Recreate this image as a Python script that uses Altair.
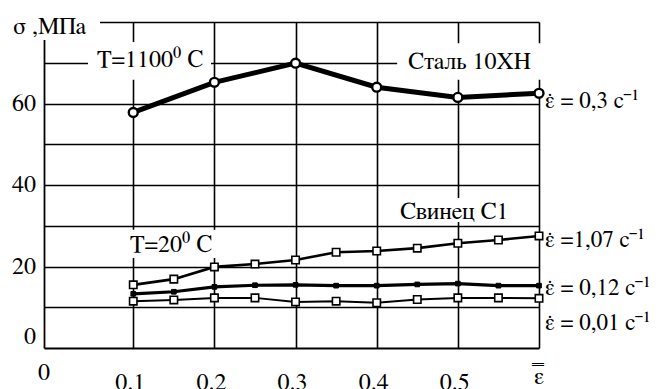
import altair as alt
import pandas as pd

# ---- data ----
x_steel = [0.1, 0.2, 0.3, 0.4, 0.5, 0.6]
y_steel = [57.8, 65.2, 69.9, 64.0, 61.5, 62.5]
x_lead = [0.1, 0.15, 0.2, 0.25, 0.3, 0.35, 0.4, 0.45, 0.5, 0.55, 0.6]
y_107 = [15.5, 16.9, 19.9, 20.6, 21.6, 23.5, 23.8, 24.5, 25.7, 26.5, 27.5]
y_012 = [13.3, 13.8, 15.0, 15.4, 15.5, 15.3, 15.3, 15.6, 15.8, 15.3, 15.3]
y_001 = [11.5, 11.8, 12.3, 12.3, 11.3, 11.5, 11.1, 11.9, 12.3, 12.3, 12.2]

y_tick_labels = ["20", "40", "60"]
y_tick_values = [20, 40, 60]
x_tick_labels = ["0.1", "0.2", "0.3", "0.4", "0.5"]
x_tick_values = [0.1, 0.2, 0.3, 0.4, 0.5]

series_labels = ["ε̇ = 0,3 с⁻¹", "ε̇ =1,07 с⁻¹", "ε̇ = 0,12 с⁻¹", "ε̇ = 0,01 с⁻¹"]
series_label_y = [60.7, 26.5, 14.8, 6.1]

FONT = "FreeSerif"
FS = 24
XDOM = [-0.01, 0.6]
YDOM = [0, 80]

xs = alt.Scale(domain=XDOM, nice=False, zero=False)
ys = alt.Scale(domain=YDOM, nice=False, zero=False)

# ---- frame / grid ----
grid_df = pd.DataFrame({"x": [0.3], "y": [40]})
frame = alt.Chart(grid_df).mark_point(opacity=0).encode(
    x=alt.X("x:Q", scale=xs, axis=alt.Axis(values=[0.1, 0.2, 0.3, 0.4, 0.5, 0.6], grid=True,
                                           gridColor="black", gridWidth=1.6, gridOpacity=1,
                                           labels=False, ticks=False, domain=True,
                                           domainColor="black", domainWidth=1.8, title=None)),
    y=alt.Y("y:Q", scale=ys, axis=alt.Axis(values=[10, 20, 30, 40, 50, 60, 70, 80], grid=True,
                                           gridColor="black", gridWidth=1.6, gridOpacity=1,
                                           labels=False, ticks=False, domain=True,
                                           domainColor="black", domainWidth=1.8, title=None)),
)

# ---- white label backgrounds ----
bg_df = pd.DataFrame({
    "x1": [-0.052, 0.0442, 0.4252, 0.4225, 0.0923],
    "x2": [0.059, 0.1958, 0.6100, 0.5890, 0.2044],
    "y1": [82.0, 75.1, 74.8, 36.8, 29.0],
    "y2": [75.6, 65.8, 65.8, 30.9, 22.1],
})
bgs = alt.Chart(bg_df).mark_rect(fill="white").encode(
    x=alt.X("x1:Q", scale=xs), x2="x2:Q",
    y=alt.Y("y1:Q", scale=ys), y2="y2:Q",
)

# ---- annotation texts ----
ann_df = pd.DataFrame({
    "x": [-0.0482, 0.0553, 0.4386, 0.4287, 0.096],
    "y": [78.8, 70.7, 70.2, 33.4, 25.3],
    "t": ["σ ,МПа", "T=1100⁰ C", "Сталь 10ХН", "Свинец С1", "T=20⁰ C"],
})
ann = alt.Chart(ann_df).mark_text(align="left", baseline="middle", font=FONT, fontSize=FS,
                                  color="black").encode(
    x=alt.X("x:Q", scale=xs), y=alt.Y("y:Q", scale=ys), text="t:N")

# ---- tick labels ----
ylab = alt.Chart(pd.DataFrame({"y": y_tick_values, "t": y_tick_labels})).mark_text(
    align="right", baseline="middle", font=FONT, fontSize=FS, color="black", dx=-8).encode(
    x=alt.value(0), y=alt.Y("y:Q", scale=ys), text="t:N")
ylab0 = alt.Chart(pd.DataFrame({"y": [0], "t": ["0"]})).mark_text(
    align="right", baseline="middle", font=FONT, fontSize=FS, color="black", dx=-8, dy=-11).encode(
    x=alt.value(0), y=alt.Y("y:Q", scale=ys), text="t:N")
xlab = alt.Chart(pd.DataFrame({"x": x_tick_values, "t": x_tick_labels})).mark_text(
    align="center", baseline="middle", font=FONT, fontSize=FS, color="black", dx=-3).encode(
    x=alt.X("x:Q", scale=xs), y=alt.value(326 + 35), text="t:N")
xlab0 = alt.Chart(pd.DataFrame({"x": [-0.01], "t": ["0"]})).mark_text(
    align="center", baseline="middle", font=FONT, fontSize=FS, color="black").encode(
    x=alt.X("x:Q", scale=xs), y=alt.value(326 + 25), text="t:N")
xlabe = alt.Chart(pd.DataFrame({"x": [0.6], "t": ["ε̿"]})).mark_text(
    align="center", baseline="middle", font=FONT, fontSize=FS, color="black").encode(
    x=alt.X("x:Q", scale=xs), y=alt.value(326 + 29), text="t:N")

# ---- series labels ----
slab = alt.Chart(pd.DataFrame({"x": [0.6] * 4, "y": series_label_y, "t": series_labels})).mark_text(
    align="left", baseline="middle", font=FONT, fontSize=23, color="black", dx=6).encode(
    x=alt.X("x:Q", scale=xs), y=alt.Y("y:Q", scale=ys), text="t:N")

# ---- data series ----
def series(xv, yv, lw, shape, size, filled, sw):
    df = pd.DataFrame({"x": xv, "y": yv})
    base = alt.Chart(df).encode(x=alt.X("x:Q", scale=xs), y=alt.Y("y:Q", scale=ys))
    line = base.mark_line(color="black", strokeWidth=lw)
    pts = base.mark_point(shape=shape, size=size, filled=True,
                          fill="black" if filled else "white",
                          stroke="black", strokeWidth=sw, opacity=1)
    return [line, pts]

layers = [frame, bgs, ann, ylab, ylab0, xlab, xlab0, xlabe, slab]
layers += series(x_lead, y_001, 2.0, "square", 55, False, 1.6)
layers += series(x_lead, y_012, 3.2, "square", 22, True, 1.0)
layers += series(x_lead, y_107, 2.6, "square", 55, False, 1.6)
layers += series(x_steel, y_steel, 5.0, "circle", 80, False, 2.4)

chart = alt.layer(*layers).properties(
    width=495, height=326,
    padding={"left": 36, "top": 14, "right": 118, "bottom": 41},
    autosize=alt.AutoSizeParams(type="none"),
    background="white",
).configure_view(stroke=None).configure_text(font=FONT)

chart.save("out.html", embed_options={"renderer": "svg", "actions": False})
